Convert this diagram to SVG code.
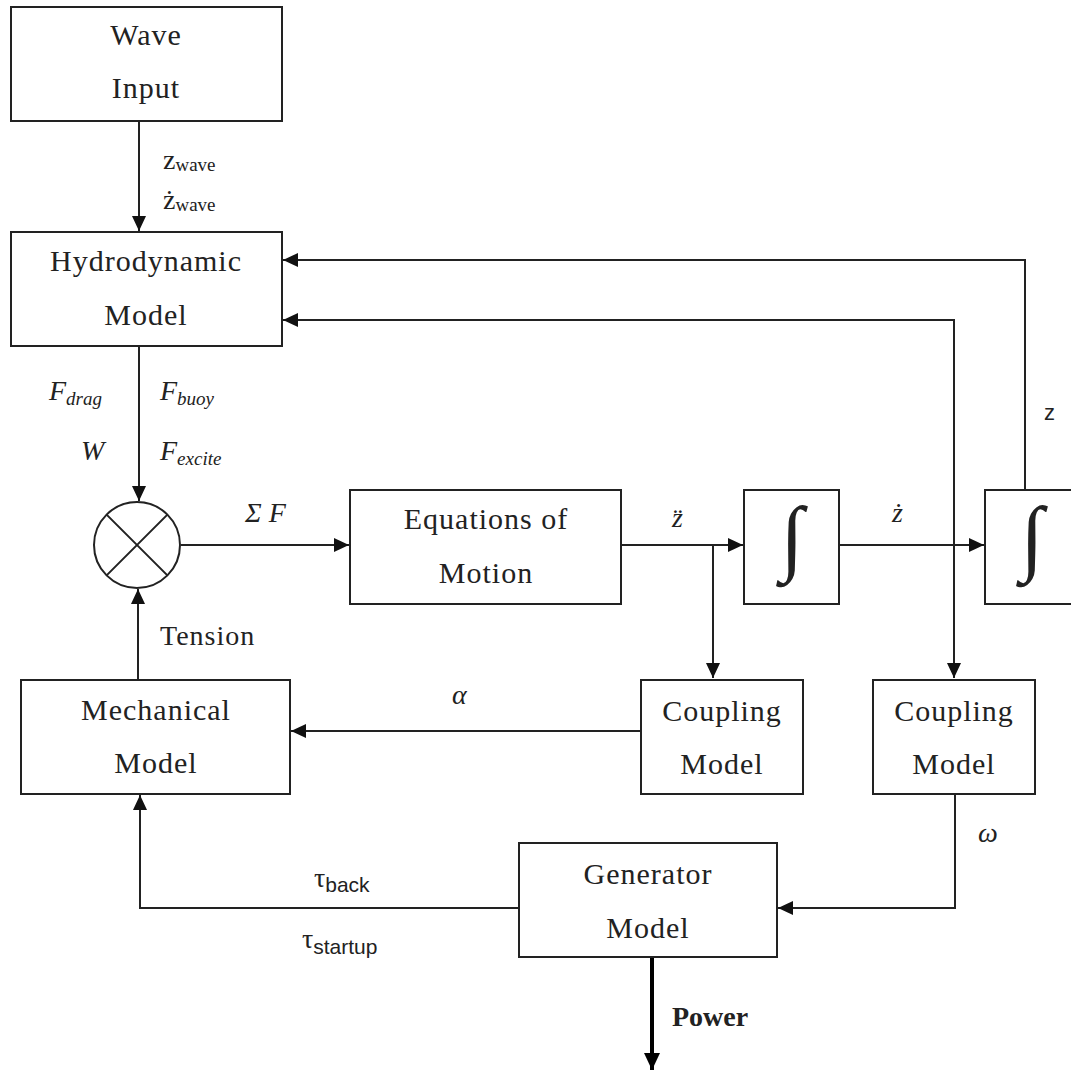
<svg xmlns="http://www.w3.org/2000/svg" width="1071" height="1071" viewBox="0 0 1071 1071">
<style>
.box{fill:#fff;stroke:#222;stroke-width:2}
.ln{fill:none;stroke:#222;stroke-width:2}
.t{font-family:"Liberation Serif","Times New Roman",serif;font-size:30px;fill:#222;text-anchor:middle;letter-spacing:1px}
.lab{font-family:"Liberation Serif","Times New Roman",serif;font-size:28px;fill:#222}
.it{font-style:italic}
.sub{font-size:19px}
.ss{font-family:"Liberation Sans",Arial,sans-serif;font-size:21px}
.int{font-family:"Liberation Serif","Times New Roman",serif;font-size:84px;fill:#222;text-anchor:middle}
</style>
<defs>
<marker id="ah" markerUnits="userSpaceOnUse" markerWidth="16" markerHeight="14" refX="15" refY="7" orient="auto">
<path d="M0,0 L15,7 L0,14 Z" fill="#111"/>
</marker>
<marker id="ahb" markerUnits="userSpaceOnUse" markerWidth="18" markerHeight="16" refX="17" refY="8" orient="auto">
<path d="M0,0 L17,8 L0,16 Z" fill="#000"/>
</marker>
</defs>
<rect width="1071" height="1071" fill="#fff"/>
<g id="connectors">
<path class="ln" d="M139,121 V231" marker-end="url(#ah)"/>
<path class="ln" d="M139,346 V501" marker-end="url(#ah)"/>
<path class="ln" d="M138,680 V589" marker-end="url(#ah)"/>
<path class="ln" d="M181,545 H349" marker-end="url(#ah)"/>
<path class="ln" d="M621,545 H743" marker-end="url(#ah)"/>
<path class="ln" d="M713,545 V678" marker-end="url(#ah)"/>
<path class="ln" d="M839,545 H984" marker-end="url(#ah)"/>
<path class="ln" d="M954,545 V320 H283" marker-end="url(#ah)"/>
<path class="ln" d="M954,545 V678" marker-end="url(#ah)"/>
<path class="ln" d="M1025,490 V260 H283" marker-end="url(#ah)"/>
<path class="ln" d="M641,731 H291" marker-end="url(#ah)"/>
<path class="ln" d="M955,794 V908 H778" marker-end="url(#ah)"/>
<path class="ln" d="M519,908 H140 V795" marker-end="url(#ah)"/>
<path fill="none" stroke="#000" stroke-width="4" d="M652,957 V1070" marker-end="url(#ahb)"/>
</g>
<g id="wave-input">
<rect class="box" x="11" y="7" width="271" height="114"/>
<text class="t" x="146" y="45">Wave</text>
<text class="t" x="146" y="98">Input</text>
</g>
<g id="hydrodynamic-model">
<rect class="box" x="11" y="232" width="271" height="114"/>
<text class="t" x="146" y="271">Hydrodynamic</text>
<text class="t" x="146" y="325">Model</text>
</g>
<g id="sum">
<circle class="ln" cx="137" cy="545" r="43"/>
<path class="ln" stroke-width="1.5" d="M106.6,514.6 L167.4,575.4 M167.4,514.6 L106.6,575.4"/>
</g>
<g id="equations-of-motion">
<rect class="box" x="350" y="490" width="271" height="114"/>
<text class="t" x="486" y="529">Equations of</text>
<text class="t" x="486" y="583">Motion</text>
</g>
<g id="integrator-1">
<rect class="box" x="744" y="490" width="95" height="114"/>
<text class="int" x="792" y="565" font-weight="300">∫</text>
</g>
<g id="integrator-2">
<rect class="box" x="985" y="490" width="100" height="114"/>
<text class="int" x="1032" y="565">∫</text>
</g>
<g id="mechanical-model">
<rect class="box" x="21" y="680" width="269" height="114"/>
<text class="t" x="156" y="720">Mechanical</text>
<text class="t" x="156" y="773">Model</text>
</g>
<g id="coupling-model-1">
<rect class="box" x="641" y="680" width="162" height="114"/>
<text class="t" x="722" y="721">Coupling</text>
<text class="t" x="722" y="774">Model</text>
</g>
<g id="coupling-model-2">
<rect class="box" x="873" y="680" width="162" height="114"/>
<text class="t" x="954" y="721">Coupling</text>
<text class="t" x="954" y="774">Model</text>
</g>
<g id="generator-model">
<rect class="box" x="519" y="843" width="258" height="114"/>
<text class="t" x="648" y="884">Generator</text>
<text class="t" x="648" y="938">Model</text>
</g>
<g id="labels">
<text class="lab" x="163" y="169">z<tspan class="sub" dy="2">wave</tspan></text>
<text class="lab" x="163" y="209">ż<tspan class="sub" dy="2">wave</tspan></text>
<text class="lab it" x="49" y="400">F<tspan class="sub" dy="5">drag</tspan></text>
<text class="lab it" x="160" y="400">F<tspan class="sub" dy="5">buoy</tspan></text>
<text class="lab it" x="81" y="460">W</text>
<text class="lab it" x="160" y="460">F<tspan class="sub" dy="5">excite</tspan></text>
<text class="lab it" x="245" y="522">Σ F</text>
<text class="lab" x="160" y="645" letter-spacing="1">Tension</text>
<text class="lab it" x="672" y="527">z̈</text>
<text class="lab it" x="892" y="522">ż</text>
<text style="font-family:'Liberation Sans',Arial,sans-serif;font-size:22px;fill:#222" x="1044" y="420">z</text>
<text class="lab it" x="452" y="704">α</text>
<text class="lab it" x="978" y="842">ω</text>
<text class="lab" x="314" y="887">τ<tspan class="ss" dy="5">back</tspan></text>
<text class="lab" x="302" y="948">τ<tspan class="ss" dy="6">startup</tspan></text>
<text class="lab" x="672" y="1026" font-weight="bold" font-size="26">Power</text>
</g>
</svg>
